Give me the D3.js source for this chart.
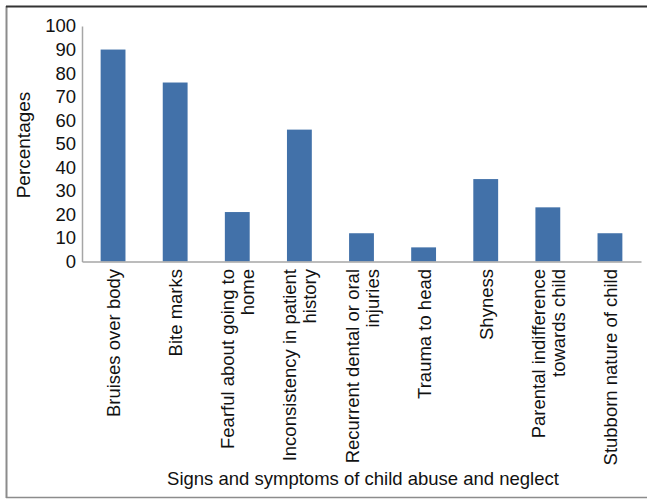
<!DOCTYPE html>
<html><head><meta charset="utf-8">
<script src="https://cdn.jsdelivr.net/npm/d3@7"></script>
<style>body{margin:0;background:#fff}svg{display:block}text{font-family:"Liberation Sans",Arial,sans-serif;fill:#111}</style>
</head><body><svg id="c" width="647" height="500"></svg>
<script>
const categories = [
  ["Bruises over body"],
  ["Bite marks"],
  ["Fearful about going to","home"],
  ["Inconsistency in patient","history"],
  ["Recurrent dental or oral","injuries"],
  ["Trauma to head"],
  ["Shyness"],
  ["Parental indifference","towards child"],
  ["Stubborn nature of child"]
];
const values = [90, 76, 21, 56, 12, 6, 35, 23, 12];
const yTicks = [0,10,20,30,40,50,60,70,80,90,100];
const yTitle = "Percentages";
const xTitle = "Signs and symptoms of child abuse and neglect";

const svg = d3.select("#c");
const m = {left:82};
const x = d3.scaleBand().domain(d3.range(categories.length)).range([m.left, 641]).paddingInner(0.6).paddingOuter(0.3);
const y = d3.scaleLinear().domain([0,100]).range([261.5, 26]);

// frame
svg.append("line").attr("x1",6.5).attr("x2",6.5).attr("y1",6).attr("y2",498).attr("stroke","#8c8c8c").attr("stroke-width",2);
svg.append("line").attr("x1",6).attr("x2",647).attr("y1",497.5).attr("y2",497.5).attr("stroke","#8c8c8c").attr("stroke-width",1.5);
svg.append("line").attr("x1",6).attr("x2",647).attr("y1",6.5).attr("y2",6.5).attr("stroke","#333").attr("stroke-width",2);

// bars
svg.selectAll("rect.bar").data(values).join("rect").attr("class","bar")
  .attr("x",(d,i)=>x(i)).attr("width",x.bandwidth())
  .attr("y",d=>y(d)).attr("height",d=>y(0)-y(d)).attr("fill","#4271a9");

// y axis
const ya = svg.append("g").attr("transform",`translate(${m.left},0)`)
  .call(d3.axisLeft(y).tickValues(yTicks).tickSize(0).tickPadding(6));
ya.select(".domain").attr("stroke","#a6a6a6").attr("stroke-width",1.5);
ya.selectAll("text").attr("font-size",18.5).attr("fill","#111").style("font-family","'Liberation Sans',Arial,sans-serif");

// x axis
const xa = svg.append("g").attr("transform",`translate(0,${y(0)})`)
  .call(d3.axisBottom(x).tickSize(0).tickFormat(""));
xa.select(".domain").attr("stroke","#a6a6a6").attr("stroke-width",1.5);

// category labels
const fs = 18.5, lh = 20;
categories.forEach((lines,i)=>{
  const cx = x(i)+x.bandwidth()/2;
  const n = lines.length;
  lines.forEach((t,j)=>{
    const off = (j-(n-1)/2)*lh;
    svg.append("text").attr("transform",`translate(${cx+off+7},${269}) rotate(-90)`)
      .attr("text-anchor","end").attr("font-size",fs).text(t);
  });
});

svg.append("text").attr("transform","translate(30,145) rotate(-90)").attr("text-anchor","middle").attr("font-size",19).text(yTitle);
svg.append("text").attr("x",363).attr("y",485).attr("text-anchor","middle").attr("font-size",18.5).text(xTitle);
</script></body></html>
